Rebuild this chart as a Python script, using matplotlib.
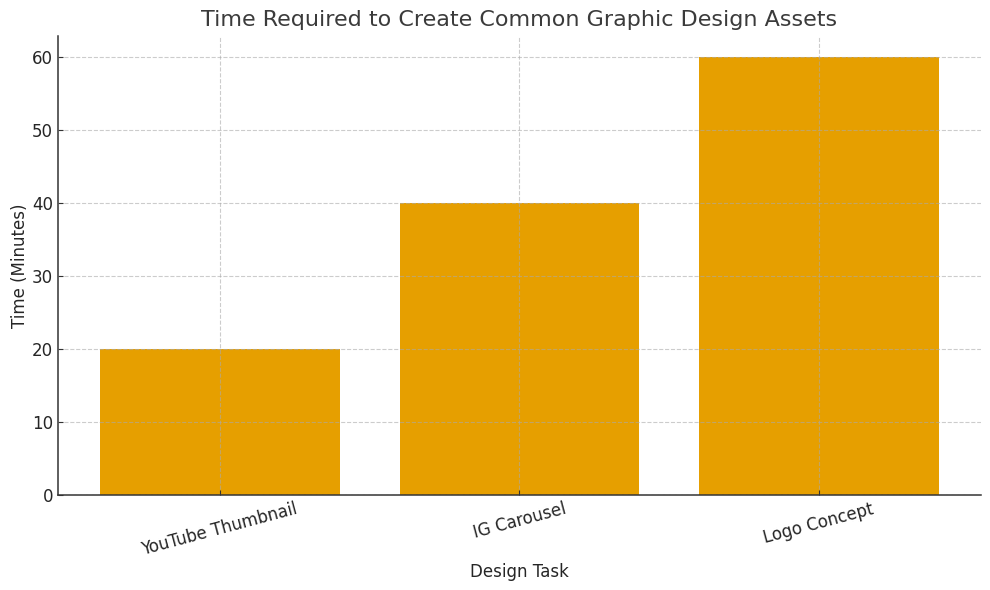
import matplotlib
matplotlib.use('Agg')
import matplotlib.pyplot as plt

# Данные
tasks = ['YouTube Thumbnail', 'IG Carousel', 'Logo Concept']
minutes = [20, 40, 60]

fig = plt.figure(figsize=(9.9, 5.9), dpi=100)
ax = fig.add_axes([58 / 990, 1 - 495 / 590, (981 - 58) / 990, (495 - 36) / 590])

ax.bar(tasks, minutes, color='#E69F00', width=0.8, zorder=2)
ax.grid(True, linestyle='--', linewidth=0.8, color='#aaaaaa', alpha=0.6, zorder=3)

ax.set_xlim(-0.54, 2.541)
ax.set_ylim(0, 62.9)
ax.set_yticks(range(0, 61, 10))

ax.spines['top'].set_visible(False)
ax.spines['right'].set_visible(False)
ax.spines['left'].set_color('#333333')
ax.spines['bottom'].set_color('#333333')
ax.spines['left'].set_linewidth(1.1)
ax.spines['bottom'].set_linewidth(1.1)
ax.set_axisbelow(False)

# Засечки внутрь, как в оригинале
ax.tick_params(axis='both', direction='in', length=3.5, width=0.8, pad=3.5,
               labelsize=12, color='#333333', labelcolor='#262626')
plt.setp(ax.get_xticklabels(), rotation=15)

ax.set_title('Time Required to Create Common Graphic Design Assets', fontsize=16, color='#3b3b3b', pad=7)
ax.set_xlabel('Design Task', fontsize=12, color='#262626', labelpad=3)
ax.set_ylabel('Time (Minutes)', fontsize=12, color='#262626', labelpad=2.5)

fig.savefig('out.png', dpi=100)
